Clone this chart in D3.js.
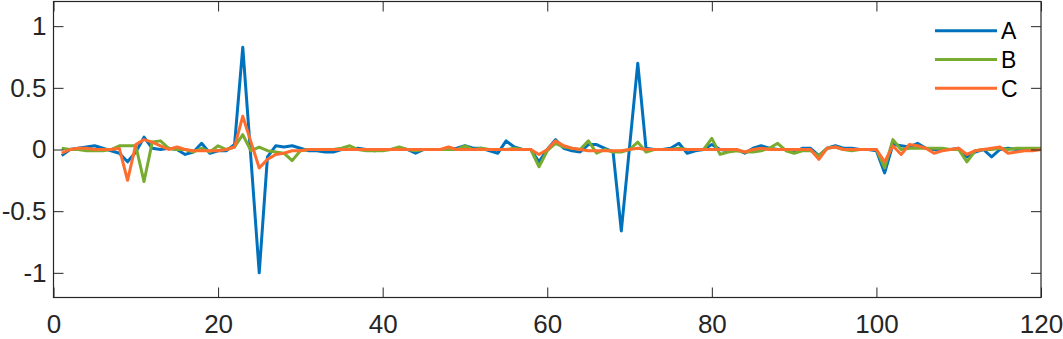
<!DOCTYPE html>
<html>
<head>
<meta charset="utf-8">
<script src="https://cdn.jsdelivr.net/npm/d3@7"></script>
<style>
  body { margin: 0; background: #fff; }
  svg { display: block; font-family: "Liberation Sans", Arial, sans-serif; }
  .tick text { font-size: 26px; fill: #262626; }
</style>
</head>
<body>
<svg id="chart" width="1063" height="339"></svg>
<script>
'use strict';

var seriesNames = ["A", "B", "C"];
var seriesColors = ["#0072bd", "#77ac30", "#ff6d2e"];

var xTicks = [0, 20, 40, 60, 80, 100, 120];
var yTicks = [-1, -0.5, 0, 0.5, 1];

// samples 1..120
var valuesA = [
  -0.05, 0.00, 0.01, 0.02, 0.03, 0.01, -0.01, -0.03, -0.10, -0.02,
  0.10, 0.01, 0.00, 0.01, 0.00, -0.04, -0.02, 0.05, -0.03, -0.01,
  -0.01, 0.04, 0.83, -0.08, -1.00, -0.06, 0.03, 0.02, 0.03, 0.01,
  -0.01, -0.01, -0.02, -0.02, 0.00, 0.00, 0.01, 0.00, -0.01, 0.00,
  0.00, 0.01, 0.00, -0.03, 0.00, 0.00, 0.00, 0.00, 0.01, 0.03,
  0.01, 0.01, -0.01, -0.03, 0.07, 0.02, 0.00, 0.00, -0.10, 0.00,
  0.08, 0.01, -0.01, -0.02, 0.04, 0.04, 0.01, -0.02, -0.66, 0.02,
  0.70, 0.01, 0.00, 0.00, 0.01, 0.05, -0.03, -0.01, 0.00, 0.04,
  0.00, -0.01, 0.00, -0.03, 0.01, 0.03, 0.01, 0.00, 0.00, -0.02,
  0.01, 0.01, -0.05, 0.01, 0.03, 0.01, 0.01, 0.00, 0.00, -0.01,
  -0.19, 0.04, 0.03, 0.02, 0.05, 0.01, 0.00, 0.00, 0.00, 0.01,
  -0.06, -0.02, 0.00, -0.06, 0.00, 0.01, 0.00, 0.00, 0.00, 0.00
];

var valuesB = [
  0.01, 0.00, 0.00, -0.01, -0.01, -0.01, 0.00, 0.03, 0.03, 0.03,
  -0.26, 0.06, 0.07, 0.01, 0.00, 0.00, -0.02, 0.01, -0.02, 0.03,
  0.00, 0.02, 0.12, -0.01, 0.02, -0.01, -0.02, -0.03, -0.09, -0.01,
  0.00, 0.00, 0.00, 0.00, 0.01, 0.03, 0.00, -0.01, -0.01, -0.01,
  0.00, 0.02, 0.00, -0.01, 0.00, 0.00, 0.00, 0.00, 0.00, 0.03,
  0.00, 0.01, 0.00, 0.00, 0.00, 0.01, 0.00, 0.00, -0.14, -0.01,
  0.05, 0.02, 0.01, 0.00, 0.07, -0.03, 0.00, -0.02, -0.02, 0.00,
  0.06, -0.02, 0.00, 0.00, 0.00, 0.01, 0.00, 0.00, 0.00, 0.09,
  -0.04, -0.02, -0.01, -0.02, -0.02, -0.01, 0.01, 0.05, -0.01, -0.03,
  -0.01, -0.01, -0.05, 0.01, 0.02, 0.00, -0.01, 0.00, 0.00, 0.00,
  -0.15, 0.08, 0.00, 0.01, 0.01, 0.01, 0.01, 0.01, 0.00, 0.00,
  -0.10, -0.01, 0.00, 0.00, 0.01, 0.00, 0.01, 0.01, 0.01, 0.01
];

var valuesC = [
  -0.03, 0.00, 0.01, 0.01, 0.00, 0.00, 0.00, 0.01, -0.25, 0.04,
  0.08, 0.06, 0.03, 0.00, 0.02, 0.00, -0.01, -0.01, -0.01, -0.01,
  0.00, 0.02, 0.27, 0.06, -0.15, -0.08, -0.04, -0.03, -0.01, -0.01,
  0.00, 0.00, 0.00, 0.00, 0.00, 0.00, 0.00, 0.00, 0.00, 0.00,
  0.00, 0.00, 0.00, 0.00, 0.00, 0.00, 0.00, 0.02, 0.00, 0.00,
  0.00, 0.00, 0.00, 0.00, 0.00, 0.00, 0.00, 0.00, -0.04, 0.00,
  0.07, 0.03, 0.01, 0.00, -0.01, -0.01, -0.01, -0.01, -0.01, 0.00,
  0.01, 0.00, 0.00, 0.00, 0.00, 0.00, 0.00, 0.00, 0.00, 0.00,
  0.00, 0.00, 0.00, -0.02, 0.00, 0.01, 0.00, 0.00, 0.00, 0.00,
  0.00, 0.00, -0.08, 0.01, 0.02, 0.00, 0.00, 0.00, 0.00, 0.00,
  -0.10, 0.03, -0.04, 0.04, 0.03, 0.01, -0.03, -0.01, 0.00, 0.01,
  -0.04, -0.01, 0.00, 0.01, 0.02, -0.03, -0.02, -0.01, -0.01, 0.00
];

var allValues = [valuesA, valuesB, valuesC];

var plotLeft = 53.5, plotRight = 1041, plotTop = 1.5, plotBottom = 297.5;
var ink = "#262626";

var x = d3.scaleLinear().domain([0, 120]).range([plotLeft, plotRight]);
var y = d3.scaleLinear().domain([-1.2, 1.2]).range([plotBottom, plotTop]);

var svg = d3.select("#chart");

var fmt = function(d) { return String(d); };

var styleAxis = function(g) {
  g.select(".domain").remove();
  g.selectAll(".tick line").attr("stroke", ink).attr("stroke-width", 1);
};

// lines
var line = d3.line()
  .x(function(d, i) { return x(i + 1); })
  .y(function(d) { return y(d); });

svg.append("g").selectAll("path")
    .data(allValues)
  .enter().append("path")
    .attr("d", line)
    .attr("fill", "none")
    .attr("stroke", function(d, i) { return seriesColors[i]; })
    .attr("stroke-width", 3)
    .attr("stroke-linejoin", "round");

// axes, ticks pointing inside on every side
svg.append("g")
    .attr("transform", "translate(0," + plotBottom + ")")
    .call(d3.axisBottom(x).tickValues(xTicks).tickSize(-10).tickPadding(17).tickFormat(fmt))
    .call(styleAxis);

svg.append("g")
    .attr("transform", "translate(0," + plotTop + ")")
    .call(d3.axisTop(x).tickValues(xTicks).tickSize(-10).tickFormat(""))
    .call(styleAxis);

svg.append("g")
    .attr("transform", "translate(" + plotLeft + ",0)")
    .call(d3.axisLeft(y).tickValues(yTicks).tickSize(-10).tickPadding(7).tickFormat(fmt))
    .call(styleAxis);

svg.append("g")
    .attr("transform", "translate(" + plotRight + ",0)")
    .call(d3.axisRight(y).tickValues(yTicks).tickSize(-10).tickFormat(""))
    .call(styleAxis);

svg.selectAll("g[font-size]").attr("font-family", null).attr("font-size", null);

svg.append("rect")
    .attr("x", plotLeft)
    .attr("y", plotTop)
    .attr("width", plotRight - plotLeft)
    .attr("height", plotBottom - plotTop)
    .attr("fill", "none")
    .attr("stroke", ink)
    .attr("stroke-width", 1.2);

// legend
var legend = svg.append("g").selectAll("g")
    .data(seriesNames)
  .enter().append("g")
    .attr("transform", function(d, i) { return "translate(935," + (30.7 + i * 28.8) + ")"; });

legend.append("line")
    .attr("x1", 0)
    .attr("x2", 62)
    .attr("stroke", function(d, i) { return seriesColors[i]; })
    .attr("stroke-width", 3);

legend.append("text")
    .attr("x", 66)
    .attr("dy", "0.36em")
    .attr("font-size", "23px")
    .attr("fill", "#000")
    .text(function(d) { return d; });
</script>
</body>
</html>
